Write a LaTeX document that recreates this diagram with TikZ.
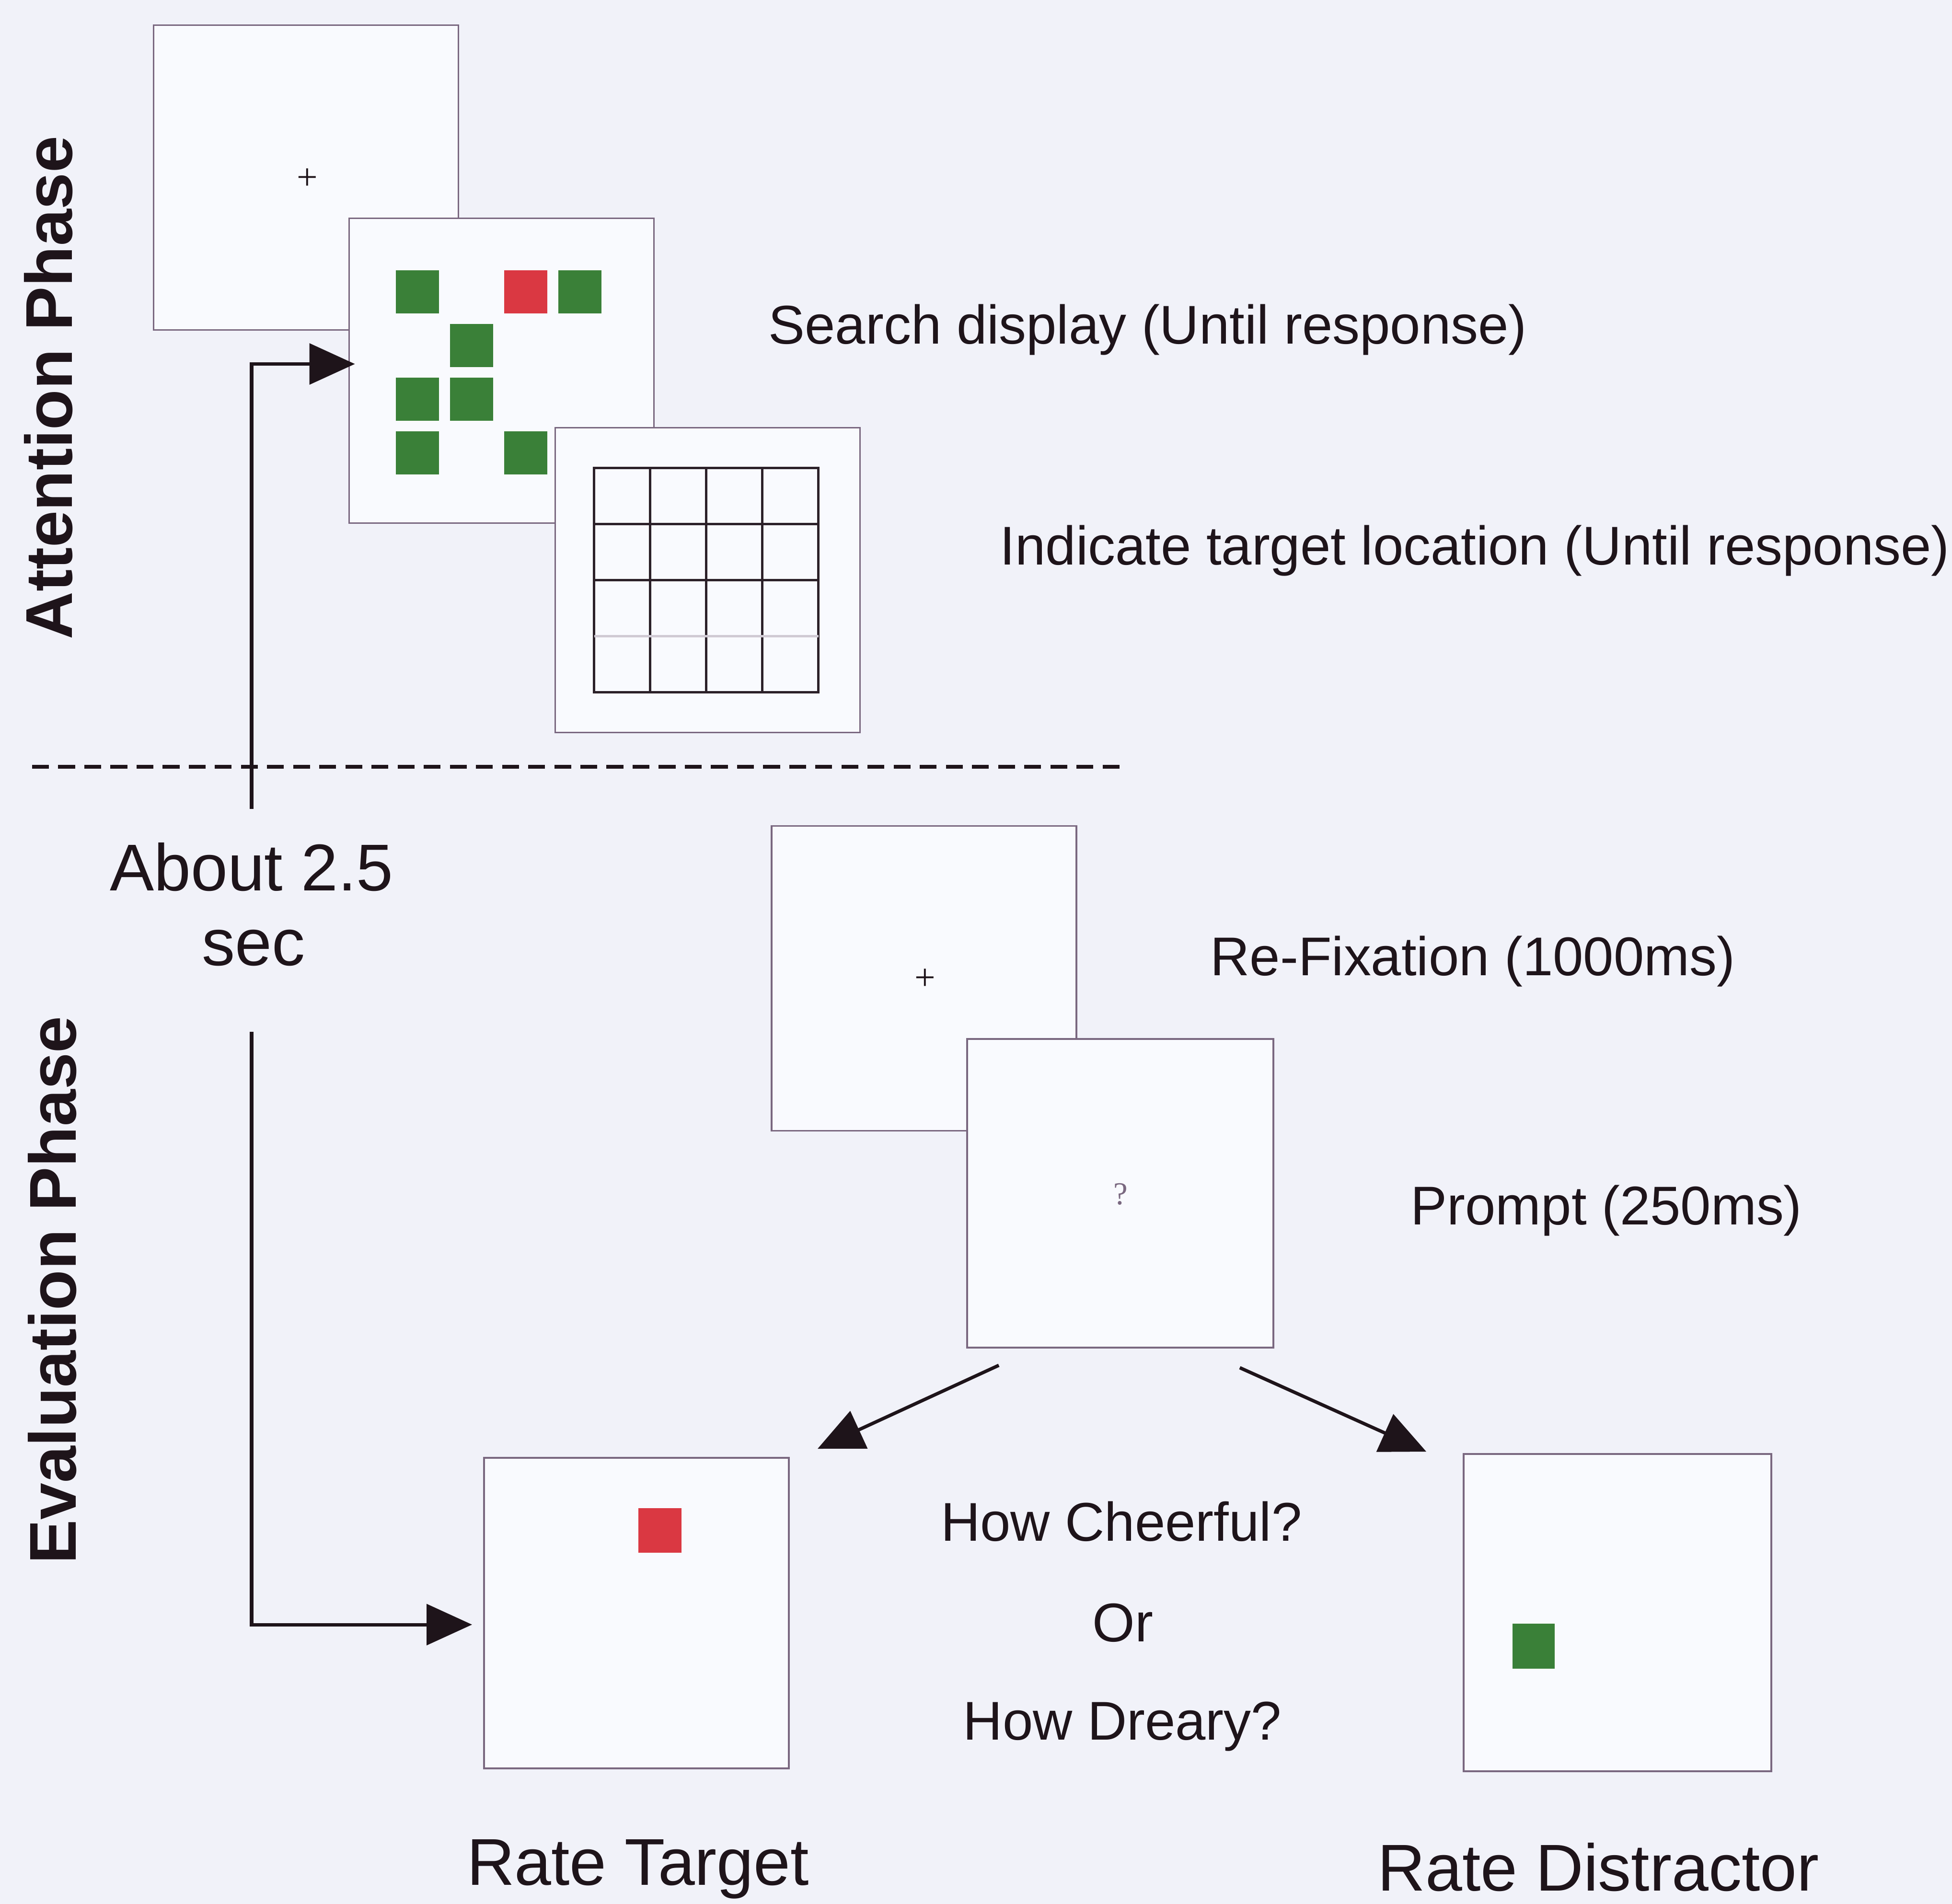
\documentclass[tikz,border=0pt]{standalone}
\usepackage{fontspec}
\setmainfont{Liberation Sans}
\newfontfamily\stimfont{Liberation Serif}
\usetikzlibrary{arrows.meta,calc}

\definecolor{bgcol}{RGB}{241,242,249}
\definecolor{screenfill}{RGB}{249,250,254}
\definecolor{framecol}{RGB}{122,104,128}
\definecolor{inkcol}{RGB}{30,20,26}
\definecolor{stimgreen}{RGB}{58,128,56}
\definecolor{stimred}{RGB}{218,56,66}

\begin{document}
\begin{tikzpicture}[
    screen/.style={draw=framecol,line width=1.1pt,fill=screenfill,minimum width=6.36cm,minimum height=6.36cm,inner sep=0pt},
    caption/.style={text=inkcol,inner sep=0pt,font=\fontsize{32.4}{38}\selectfont},
    bigcaption/.style={text=inkcol,inner sep=0pt,font=\fontsize{39.3}{46}\selectfont},
    phase/.style={text=inkcol,inner sep=0pt,rotate=90,font=\fontsize{39.3}{46}\selectfont\bfseries},
    patch/.style={minimum size=0.9cm,inner sep=0pt},
    gridline/.style={draw=inkcol!85!framecol,line width=1.4pt},
    flow/.style={draw=inkcol,line width=2pt,-{Triangle[length=0.95cm,width=0.85cm]}},
]
\fill[bgcol] (0,0) rectangle (40.73,-39.73);
\useasboundingbox (0,0) rectangle (40.73,-39.73);

% phase labels
\node[phase,anchor=base] (attn) at (1.50,-8.09) {Attention Phase};
\node[phase,anchor=base] (eval) at (1.58,-26.92) {Evaluation Phase};

% attention phase
\node[screen] (fix) at (6.385,-3.705) {};
\node[inkcol,inner sep=0pt,font=\stimfont\fontsize{22}{22}\selectfont] (fixcross) at (6.41,-3.74) {+};
\node[screen] (search) at (10.465,-7.735) {};
\foreach \c/\r/\col in {0/0/stimgreen,2/0/stimred,3/0/stimgreen,1/1/stimgreen,0/2/stimgreen,1/2/stimgreen,0/3/stimgreen,2/3/stimgreen}
    \node[patch,fill=\col] (p\c\r) at ($(search.center)+({-1.755+1.13*\c},{1.645-1.12*\r})$) {};
\node[screen] (grid) at (14.765,-12.105) {};
\begin{scope}[shift={([xshift=-0.3mm]grid.center)}]
    \draw[gridline] (-2.34,-2.34) rectangle (2.34,2.34);
    \foreach \k in {-1.17,0,1.17}
        \draw[gridline] (\k,-2.34) -- (\k,2.34);
    \draw[gridline] (-2.34,1.17) -- (2.34,1.17);
    \draw[gridline] (-2.34,0) -- (2.34,0);
    \draw[gridline,draw=framecol!35] (-2.34,-1.17) -- (2.34,-1.17);
\end{scope}

\node[caption,anchor=base west] (searchlbl) at (16.03,-7.18) {Search display (Until response)};
\node[caption,anchor=base west] (gridlbl) at (20.86,-11.78) {Indicate target location (Until response)};

% phase divider and timeline
\coordinate (dashL) at (0.67,-16.0);
\coordinate (dashR) at (23.51,-16.0);
\draw[inkcol,line width=2.4pt,dash pattern=on 10pt off 5.5pt] (dashL) -- (dashR);

\node[bigcaption,anchor=base] (about) at (5.25,-18.58) {About 2.5};
\node[bigcaption,anchor=base] (sec) at (5.29,-20.14) {sec};

\coordinate (upend) at (5.25,-16.88);
\coordinate (lowstart) at (5.25,-21.53);

% evaluation phase
\node[screen] (refix) at (19.28,-20.415) {};
\node[inkcol,inner sep=0pt,font=\stimfont\fontsize{22}{22}\selectfont] (refixcross) at (19.30,-20.44) {+};
\node[screen,minimum width=6.39cm,minimum height=6.44cm] (prompt) at (23.375,-24.90) {};
\node[framecol,inner sep=0pt,font=\stimfont\fontsize{19}{19}\selectfont] (qmark) at (23.38,-24.92) {?};

\node[caption,anchor=base west] (refixlbl) at (25.25,-20.35) {Re-Fixation (1000ms)};
\node[caption,anchor=base west] (promptlbl) at (29.43,-25.55) {Prompt (250ms)};

\node[screen,minimum height=6.48cm] (rtarget) at (13.28,-33.66) {};
\node[patch,fill=stimred,minimum height=0.93cm] (tpatch) at ($(rtarget.center)+(0.49,1.73)$) {};
\node[screen,minimum width=6.42cm,minimum height=6.62cm] (rdist) at (33.75,-33.65) {};
\node[patch,fill=stimgreen,minimum width=0.88cm,minimum height=0.94cm] (dpatch) at ($(rdist.center)+(-1.75,-0.70)$) {};

\node[caption,anchor=base] (cheer) at (23.40,-32.15) {How Cheerful?};
\node[caption,anchor=base] (orlbl) at (23.43,-34.25) {Or};
\node[caption,anchor=base] (dreary) at (23.42,-36.30) {How Dreary?};

\node[bigcaption,anchor=base] (rtlbl) at (13.31,-39.33) {Rate Target};
\node[bigcaption,anchor=base] (rdlbl) at (33.35,-39.45) {Rate Distractor};

% connectors
\draw[flow,shorten >=-1.4mm] (upend) |- ([yshift=1.4mm]search.west);
\draw[flow] (lowstart) |- ([xshift=-2.3mm,yshift=-2.4mm]rtarget.west);
\draw[flow] ([xshift=6.8mm,yshift=-3.5mm]prompt.south west) -- ([xshift=5.8mm,yshift=1.7mm]rtarget.north east);
\draw[flow] ([xshift=-7.2mm,yshift=-4mm]prompt.south east) -- ([xshift=-7.6mm,yshift=0.3mm]rdist.north west);
\end{tikzpicture}
\end{document}
